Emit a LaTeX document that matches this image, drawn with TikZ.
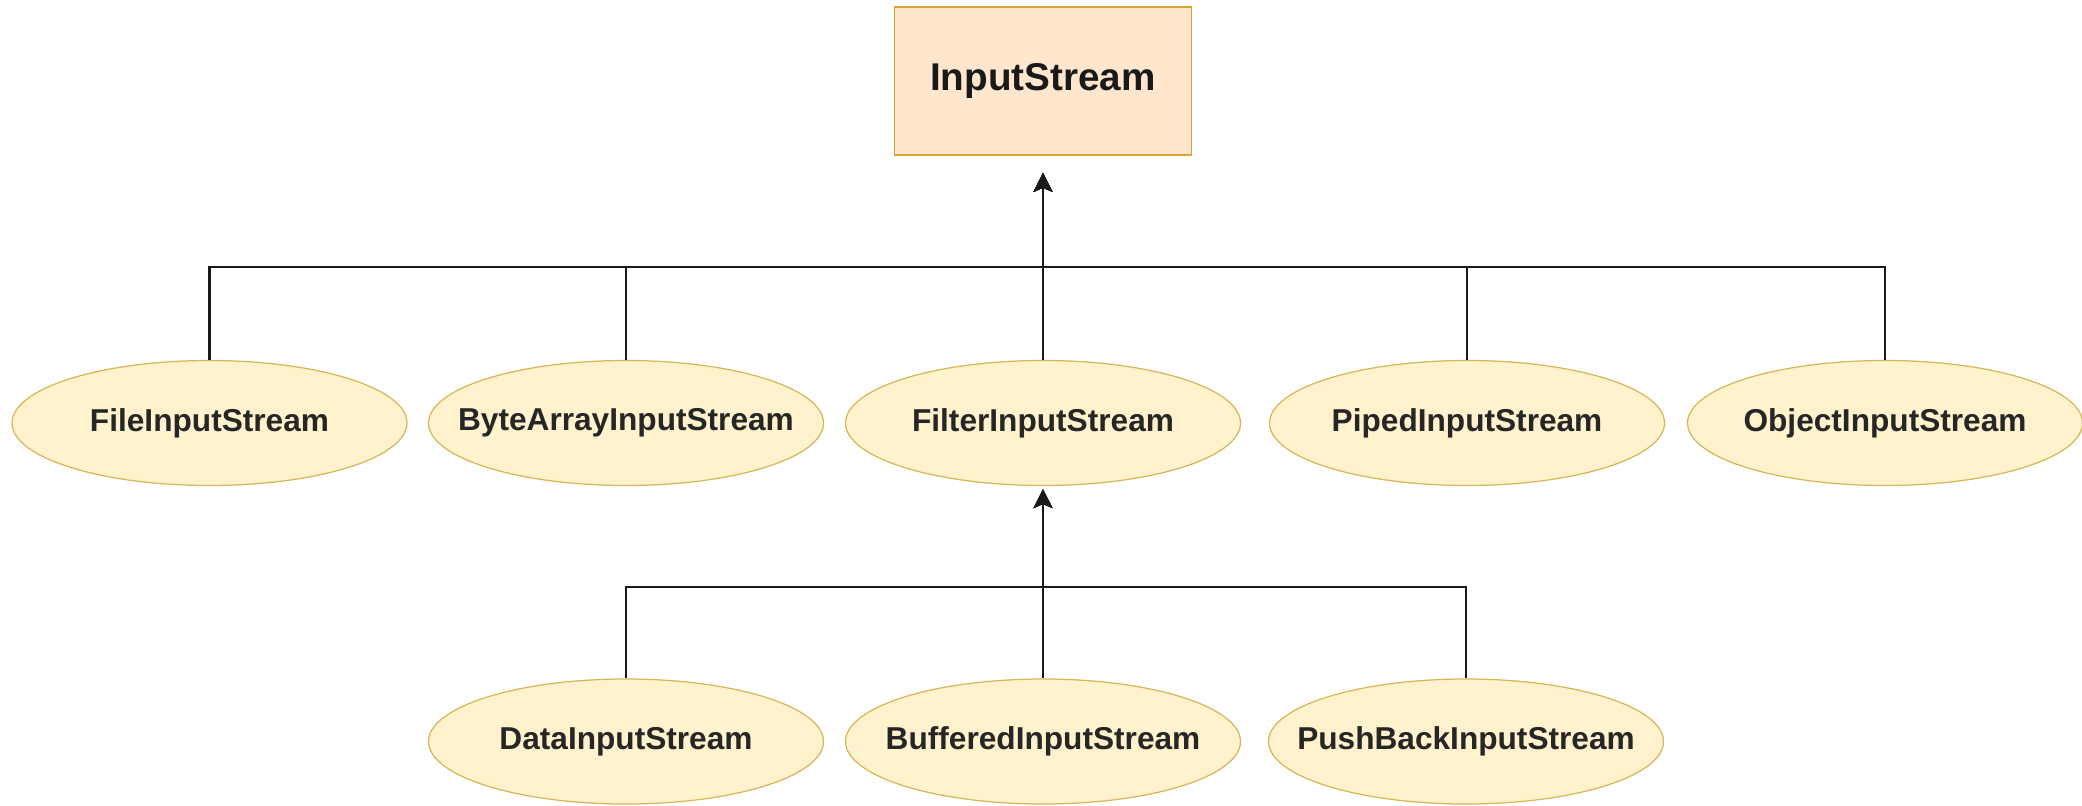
\documentclass[tikz,border=0pt]{standalone}
\usepackage{fontspec}
\setmainfont{Liberation Sans}
\usetikzlibrary{shapes.geometric}
\usetikzlibrary{arrows.meta}

\definecolor{basefill}{HTML}{FFE6CC}
\definecolor{baseline}{HTML}{D9A530}
\definecolor{subfill}{HTML}{FFF2CC}
\definecolor{subline}{HTML}{D6B656}

\begin{document}
\begin{tikzpicture}[
  basebox/.style={rectangle,draw=baseline,fill=basefill,line width=0.5pt,minimum width=2.97cm,minimum height=1.48cm,font=\fontsize{11}{13}\selectfont\bfseries,text=black!90},
  subclass/.style={ellipse,draw=subline,fill=subfill,line width=0.35pt,minimum width=3.95cm,minimum height=1.25cm,inner xsep=-0.35cm,inner ysep=0pt,font=\fontsize{9}{11}\selectfont\bfseries,text=black!85},
  edge/.style={line width=0.6pt,black!90,-{Stealth[length=0.19cm,width=0.19cm,inset=0.04cm]}}
]
\useasboundingbox (0,0) rectangle (20.82,8.05);

\node[basebox] (stream) at (10.43,7.24) {InputStream};

\node[subclass] (file) at (2.095,3.82) {FileInputStream};
\node[subclass] (bytearray) at (6.26,3.82) {ByteArrayInputStream};
\node[subclass] (filter) at (10.43,3.82) {FilterInputStream};
\node[subclass] (piped) at (14.67,3.82) {PipedInputStream};
\node[subclass] (object) at (18.85,3.82) {ObjectInputStream};

\node[subclass] (data) at (6.26,0.635) {DataInputStream};
\node[subclass] (buffered) at (10.43,0.635) {BufferedInputStream};
\node[subclass] (pushback) at (14.66,0.635) {PushBackInputStream};

\coordinate (topbus) at (10.43,5.38);
\coordinate (lowbus) at (10.43,2.18);

% first level
\foreach \child in {file,bytearray,filter,piped,object}
  \draw[edge,shorten >=0.17cm] (\child.north) |- (topbus) -- (stream.south);

% second level
\foreach \child in {data,buffered,pushback}
  \draw[edge,shorten >=0.03cm] (\child.north) |- (lowbus) -- (filter.south);

\end{tikzpicture}
\end{document}
